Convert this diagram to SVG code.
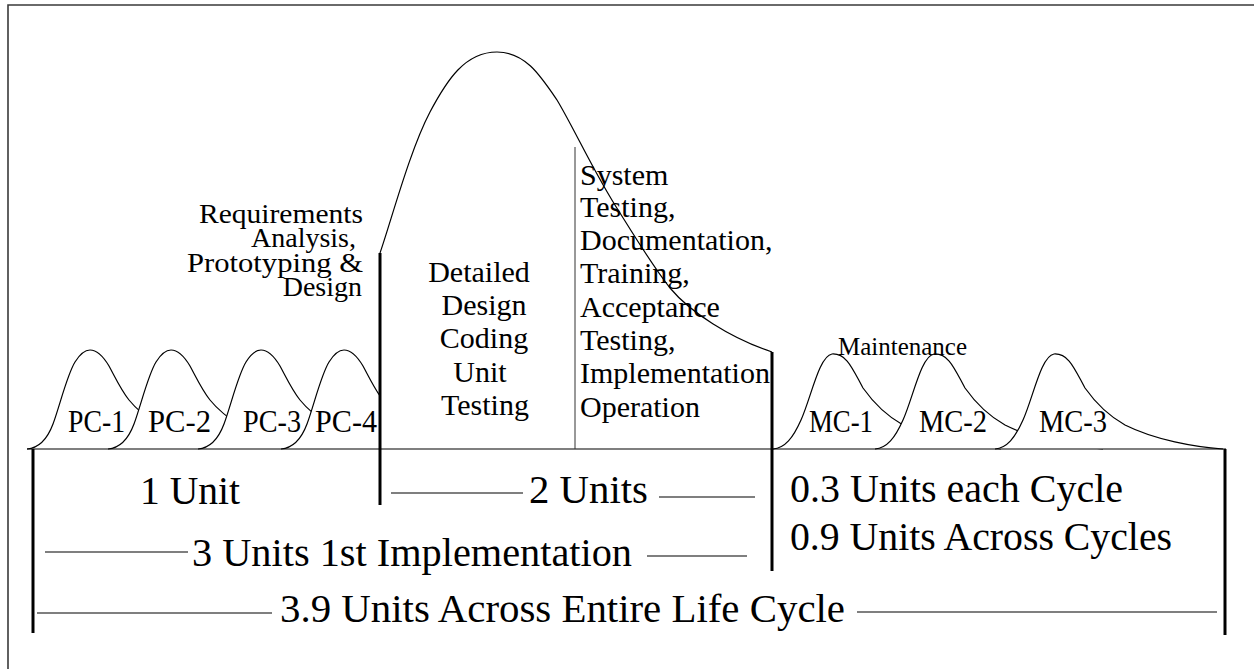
<svg xmlns="http://www.w3.org/2000/svg" width="1254" height="669" viewBox="0 0 1254 669">
  <style>
    text { font-family: "Liberation Serif", "Times New Roman", "DejaVu Serif", serif; fill: #000; }
    .curve { fill: none; stroke: #000; stroke-width: 1.2; }
    .cover { fill: #fff; stroke: none; }
    .thin { stroke: #000; stroke-width: 1.2; fill: none; }
    .bar { stroke: #000; stroke-width: 3; fill: none; }
    .frame { stroke: #3a3a3a; stroke-width: 1.6; fill: none; }
  </style>
  <defs>
    <!-- small prototype-cycle bump, origin at its foot on the baseline -->
    <path id="pcShape" d="M0,449 C12,448 20,440 26,424 C33,405 40,375 48,362 C53,354 58,350 63,350 C70,350 76,356 82,366 C88,377 94,390 102,400 C110,410 120,418 135,428"/>
    <path id="pcFill" d="M0,449 C12,448 20,440 26,424 C33,405 40,375 48,362 C53,354 58,350 63,350 C70,350 76,356 82,366 C88,377 94,390 102,400 C110,410 120,418 135,428 L135,449 Z"/>
    <!-- maintenance-cycle bump with long tail -->
    <path id="mcShape" d="M0,449 C12,448 20,438 28,420 C38,398 46,356 59,354 C74,353 80,370 90,388 C102,405 114,416 130,425 C160,440 200,447 228,449"/>
    <path id="mcFill" d="M0,449 C12,448 20,438 28,420 C38,398 46,356 59,354 C74,353 80,370 90,388 C102,405 114,416 130,425 C160,440 200,447 228,449 Z"/>
    <clipPath id="leftOfPhase">
      <rect x="0" y="0" width="380" height="669"/>
    </clipPath>
  </defs>

  <rect x="0" y="0" width="1254" height="669" fill="#fff"/>
  <!-- page frame (top and left edges) -->
  <path class="frame" d="M8,669 L8,5 L1254,5"/>

  <!-- prototype cycles -->
  <g id="pc1" transform="translate(27,0)">
    <use href="#pcFill" class="cover"/>
    <use href="#pcShape" class="curve"/>
  </g>
  <g id="pc2" transform="translate(108,0)">
    <use href="#pcFill" class="cover"/>
    <use href="#pcShape" class="curve"/>
  </g>
  <g id="pc3" transform="translate(198,0)">
    <use href="#pcFill" class="cover"/>
    <use href="#pcShape" class="curve"/>
  </g>
  <g id="pc4" clip-path="url(#leftOfPhase)">
    <g transform="translate(281,0)">
      <use href="#pcFill" class="cover"/>
      <use href="#pcShape" class="curve"/>
    </g>
  </g>

  <!-- main implementation effort curve -->
  <g id="implementation">
    <path class="curve" d="M380,253 C392,218 410,150 430,112 C447,80 465,52 497,52 C525,52 540,75 557,100 C575,130 595,175 620,213 C635,237 652,265 670,288 C690,312 730,338 772,352"/>
  </g>

  <!-- maintenance cycles -->
  <g id="mc1" transform="translate(773,0)">
    <use href="#mcFill" class="cover"/>
    <use href="#mcShape" class="curve"/>
  </g>
  <g id="mc2" transform="translate(875,0)">
    <use href="#mcFill" class="cover"/>
    <use href="#mcShape" class="curve"/>
  </g>
  <g id="mc3" transform="translate(995,0)">
    <use href="#mcFill" class="cover"/>
    <use href="#mcShape" class="curve"/>
  </g>

  <!-- baseline, phase dividers and span lines -->
  <g id="connectors">
    <line class="thin" x1="27" y1="449" x2="1226" y2="449"/>
    <line x1="575" y1="147" x2="575" y2="449" stroke="#333" stroke-width="1"/>
    <line class="bar" x1="33" y1="449" x2="33" y2="633"/>
    <line class="bar" x1="380" y1="253" x2="380" y2="505"/>
    <line class="bar" x1="772" y1="352" x2="772" y2="571"/>
    <line class="bar" x1="1225" y1="449" x2="1225" y2="635"/>
    <line class="thin" x1="391" y1="493" x2="523" y2="493"/>
    <line class="thin" x1="659" y1="497" x2="755" y2="497"/>
    <line class="thin" x1="45" y1="552" x2="188" y2="552"/>
    <line class="thin" x1="647" y1="556" x2="747" y2="556"/>
    <line class="thin" x1="37" y1="613" x2="272" y2="613"/>
    <line class="thin" x1="857" y1="612" x2="1217" y2="612"/>
  </g>

  <!-- cycle labels -->
  <g id="pc-labels" font-family="Liberation Serif, serif" font-size="31">
    <text x="68" y="432" textLength="57" lengthAdjust="spacingAndGlyphs">PC-1</text>
    <text x="148" y="432" textLength="63" lengthAdjust="spacingAndGlyphs">PC-2</text>
    <text x="243" y="432" textLength="58" lengthAdjust="spacingAndGlyphs">PC-3</text>
    <text x="315" y="432" textLength="62" lengthAdjust="spacingAndGlyphs">PC-4</text>
  </g>
  <g id="mc-labels" font-family="Liberation Serif, serif" font-size="31">
    <text x="809" y="432" textLength="64" lengthAdjust="spacingAndGlyphs">MC-1</text>
    <text x="919" y="432" textLength="68" lengthAdjust="spacingAndGlyphs">MC-2</text>
    <text x="1039" y="432" textLength="68" lengthAdjust="spacingAndGlyphs">MC-3</text>
  </g>

  <!-- phase descriptions -->
  <g id="requirements" font-family="Liberation Serif, serif" font-size="28" text-anchor="end">
    <text x="363" y="223" textLength="164" lengthAdjust="spacingAndGlyphs">Requirements</text>
    <text x="356" y="247">Analysis,</text>
    <text x="363" y="272" textLength="176" lengthAdjust="spacingAndGlyphs">Prototyping &amp;</text>
    <text x="362" y="296">Design</text>
  </g>
  <g id="detailed-design" font-family="Liberation Serif, serif" font-size="30" text-anchor="middle">
    <text x="479" y="282">Detailed</text>
    <text x="484" y="315">Design</text>
    <text x="484" y="348">Coding</text>
    <text x="480" y="382">Unit</text>
    <text x="485" y="415">Testing</text>
  </g>
  <g id="system-testing" font-family="Liberation Serif, serif" font-size="30">
    <text x="580" y="185">System</text>
    <text x="580" y="217">Testing,</text>
    <text x="580" y="250">Documentation,</text>
    <text x="580" y="283">Training,</text>
    <text x="580" y="317">Acceptance</text>
    <text x="580" y="350">Testing,</text>
    <text x="580" y="383">Implementation</text>
    <text x="580" y="417">Operation</text>
  </g>
  <g id="maintenance" font-family="Liberation Serif, serif" font-size="26">
    <text x="838" y="355" textLength="129" lengthAdjust="spacingAndGlyphs">Maintenance</text>
  </g>

  <!-- effort figures -->
  <g id="effort" font-family="Liberation Serif, serif" font-size="40">
    <text x="140" y="504" textLength="100" lengthAdjust="spacingAndGlyphs">1 Unit</text>
    <text x="529" y="503" textLength="119" lengthAdjust="spacingAndGlyphs">2 Units</text>
    <text x="192" y="566" textLength="440" lengthAdjust="spacingAndGlyphs">3 Units 1st Implementation</text>
    <text x="280" y="622" textLength="565" lengthAdjust="spacingAndGlyphs">3.9 Units Across Entire Life Cycle</text>
    <text x="790" y="502" textLength="333" lengthAdjust="spacingAndGlyphs">0.3 Units each Cycle</text>
    <text x="790" y="550" textLength="382" lengthAdjust="spacingAndGlyphs">0.9 Units Across Cycles</text>
  </g>
</svg>
